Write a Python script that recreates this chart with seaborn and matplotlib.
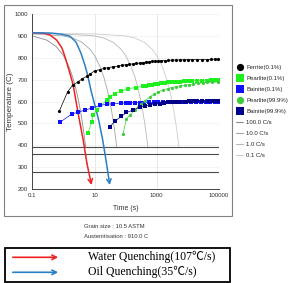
import numpy as np
import seaborn as sns
import matplotlib.pyplot as plt
from matplotlib.lines import Line2D
from matplotlib.patches import Rectangle, FancyArrowPatch
from matplotlib.ticker import FixedLocator, FuncFormatter, NullFormatter, LogLocator, MultipleLocator

# --- data ---
ferrite_t = [0.73, 1.36, 1.97, 2.98, 4.1, 5.8, 7.1, 10, 15, 20, 28, 40, 55, 75,
             100, 130, 170, 220, 280, 360, 450, 560, 700, 870, 1100, 1400, 1800, 2300, 3000,
             4000, 5500, 7500, 10000, 14000, 20000, 28000, 40000, 55000, 75000, 90000]
ferrite_T = [555, 644, 674, 690, 705, 716, 725, 740, 746, 751, 755, 759, 762, 765,
             768, 770, 772, 774, 776, 778, 780, 782, 783, 784, 785, 786, 787, 788, 789,
             790, 790, 791, 791, 792, 792, 792, 792, 793, 793, 793]

pearlite01_t = [6.2, 8.0, 9.0, 11.6, 24.3, 31, 44.8, 73, 118, 222, 361, 450, 560, 700, 870,
                1100, 1400, 1800, 2300, 3000, 4000, 5500, 7500, 10000, 14000, 20000, 28000,
                40000, 55000, 75000, 90000]
pearlite01_T = [456, 505, 537, 560, 606, 621, 636, 648, 659, 664, 670, 672, 674, 677, 679,
                682, 684, 685, 687, 688, 690, 691, 693, 694, 695, 695, 696,
                696, 697, 697, 697]

bainite01_t = [0.79, 1.83, 2.98, 4.9, 8.0, 14.8, 24.3, 39.5, 73, 100, 140, 200, 280, 400, 560,
               800, 1100, 1600, 2300, 3200, 4500, 6500, 9000, 13000, 18000, 26000, 37000,
               52000, 75000, 90000]
bainite01_T = [506, 542, 552, 560, 570, 582, 587, 590, 593, 593, 594, 594, 595, 595, 596,
               596, 597, 597, 598, 598, 599, 599, 599, 600, 600, 600, 600,
               600, 600, 600]

pearlite999_t = [82.6, 106, 140, 195, 250, 320, 420, 590, 800, 1100, 1600, 2290, 3000, 4000,
                 5500, 8000, 11000, 15000, 21000, 30000, 42000, 60000, 90000]
pearlite999_T = [453, 521, 540, 560, 575, 590, 604, 620, 633, 644, 652, 659, 664, 667,
                 671, 674, 677, 680, 683, 685, 687, 688, 689]

bainite999_t = [31, 44.8, 73, 106, 173, 283, 420, 590, 850, 1230, 1700, 2290, 3000, 4000,
                5500, 8000, 11000, 15000, 20000, 28000, 40000, 55000, 75000, 90000]
bainite999_T = [483, 510, 532, 550, 560, 575, 580, 583, 587, 590, 593, 596, 598, 599,
                600, 600, 601, 601, 601, 602, 602, 602, 602, 602]

rate_labels = ["100.0 C/s", "10.0 C/s", "1.0 C/s", "0.1 C/s"]
cool100_t = [0.1, 0.3, 0.6, 1, 1.5, 2, 2.5, 3, 3.5, 4, 4.5, 5.2]
cool100_T = [900, 880, 850, 810, 760, 710, 660, 610, 560, 510, 460, 390]
cool10_t = [0.1, 1, 2, 4, 7, 10, 15, 20, 25, 30, 35, 40, 45, 52]
cool10_T = [909, 900, 890, 870, 840, 810, 760, 710, 660, 610, 560, 510, 460, 390]
cool1_t = [0.1, 1, 10, 20, 40, 70, 100, 150, 200, 250, 300, 350, 400, 450, 520]
cool1_T = [910, 909, 900, 890, 870, 840, 810, 760, 710, 660, 610, 560, 510, 460, 390]
cool01_t = [0.1, 10, 100, 200, 400, 700, 1000, 1500, 2000, 2500, 3000, 3500, 4000, 4500, 5200]
cool01_T = [910, 909, 900, 890, 870, 840, 810, 760, 710, 660, 610, 560, 510, 460, 390]

ms_temps = [391, 360, 280]

water_t = [0.105, 0.22, 0.37, 0.605, 0.895, 1.12, 1.61, 2.06, 2.92, 4.32, 5.66, 8.0]
water_T = [914, 913, 904, 881, 845, 805, 730, 675, 552, 424, 319, 218]
oil_t = [0.105, 0.37, 0.77, 1.61, 2.52, 3.64, 4.89, 6.1, 7.6, 10.2, 13.6, 18.3, 23.9, 30.9]
oil_T = [914, 913, 909, 899, 872, 822, 767, 717, 653, 584, 515, 424, 323, 218]

# --- style ---
sns.set_style("white")
plt.rcParams['font.family'] = ['Liberation Sans', 'DejaVu Sans']

W, H = 288, 283
fig = plt.figure(figsize=(W / 100, H / 100), dpi=100)
ax = fig.add_axes([32.3 / W, 1 - 189 / H, (219 - 32.3) / W, 175 / H])
ax.set_xscale('log')

# faint grid
for v in [10, 1000]:
    ax.axvline(v, color='#e4e4e4', lw=0.6, zorder=0)
for h in range(300, 1001, 100):
    ax.axhline(h, color='#eeeeee', lw=0.5, zorder=0)

# martensite lines
for h in ms_temps:
    ax.axhline(h, color='#4a4a4a', lw=0.8, zorder=2)

# cooling curves
cool_colors = ['#8c8c8c', '#a6a6a6', '#b8b8b8', '#cccccc']
cool_data = [(cool100_t, cool100_T), (cool10_t, cool10_T), (cool1_t, cool1_T), (cool01_t, cool01_T)]
for (t, T), c in zip(cool_data, cool_colors):
    sns.lineplot(x=t, y=T, ax=ax, color=c, lw=0.6, estimator=None, sort=False, legend=False, zorder=1)

# quench paths with arrow heads
red = '#ee2222'
blue = '#2a80c4'
for t, T, c in [(water_t, water_T, red), (oil_t, oil_T, blue)]:
    sns.lineplot(x=t[:-1], y=T[:-1], ax=ax, color=c, lw=1.1, estimator=None, sort=False,
                 legend=False, zorder=3)
    ax.annotate('', xy=(t[-1], T[-1]), xytext=(t[-2], T[-2]),
                arrowprops=dict(arrowstyle='->', color=c, lw=1.1, mutation_scale=8,
                                shrinkA=0, shrinkB=0), zorder=3)

# transformation curves
series = [
    (ferrite_t, ferrite_T, 'black', 'o', "Ferrite(0.1%)"),
    (pearlite01_t, pearlite01_T, '#1ef01e', 's', "Pearlite(0.1%)"),
    (bainite01_t, bainite01_T, '#1010ff', 's', "Bainite(0.1%)"),
    (pearlite999_t, pearlite999_T, '#3ccc3c', 'o', "Pearlite(99.9%)"),
    (bainite999_t, bainite999_T, '#000088', 's', "Bainite(99.9%)"),
]
for t, T, c, m, lab in series:
    sns.lineplot(x=t, y=T, ax=ax, color=c, lw=0.5, marker=m, markersize=2.3, mew=0,
                 estimator=None, sort=False, legend=False, zorder=4)

ax.set_xlim(0.1, 100000)
ax.set_ylim(200, 1000)

# ticks
labelled = {0.1: '0.1', 10: '10', 1000: '1000', 100000: '100000'}
ax.xaxis.set_major_locator(FixedLocator([0.1, 1, 10, 100, 1000, 10000, 100000]))
ax.xaxis.set_major_formatter(FuncFormatter(lambda v, p: next((s for k, s in labelled.items()
                                                              if abs(v - k) / k < 1e-6), '')))
ax.xaxis.set_minor_locator(LogLocator(base=10, subs=np.arange(2, 10), numticks=20))
ax.xaxis.set_minor_formatter(NullFormatter())
ax.yaxis.set_major_locator(MultipleLocator(100))
ax.yaxis.set_minor_locator(MultipleLocator(50))
ax.tick_params(which='both', direction='inout', color='#444444', width=0.5,
               labelsize=4.4, labelcolor='#333333', pad=1.5)
ax.tick_params(which='major', length=3)
ax.tick_params(which='minor', length=2)
for s in ['top', 'right']:
    ax.spines[s].set_visible(False)
for s in ['left', 'bottom']:
    ax.spines[s].set_color('#444444')
    ax.spines[s].set_linewidth(0.7)

ax.set_xlabel('Time (s)', fontsize=5, color='#333333', labelpad=5)
ax.set_ylabel('Temperature (C)', fontsize=5.8, color='#333333', labelpad=0.3)

# legend outside on the right
handles = [Line2D([], [], color=c, marker=m, ls='none', markersize=5.2, mew=0)
           for _, _, c, m, _ in series]
handles += [Line2D([], [], color=c, lw=0.8) for c in cool_colors]
labels = [s[4] for s in series] + rate_labels
fig.legend(handles, labels, loc='upper left', bbox_to_anchor=(236 / W, 1 - 65 / H),
           frameon=False, fontsize=4.3, handlelength=1.2, handletextpad=0.5,
           labelspacing=0.98, borderpad=0, borderaxespad=0)

# outer frame of the diagram
fig.add_artist(Rectangle((4 / W, 1 - 215.5 / H), 228 / W, 211 / H, transform=fig.transFigure,
                         fill=False, edgecolor='#808080', lw=0.8))

fig.text(84 / W, 1 - 226 / H, 'Grain size : 10.5 ASTM', fontsize=4.2, va='center', color='#333333')
fig.text(84 / W, 1 - 236.7 / H, 'Austenitisation : 910.0 C', fontsize=4.2, va='center',
         color='#333333')

# quenching key box
fig.add_artist(Rectangle((5 / W, 1 - 282.3 / H), 225 / W, (282.3 - 247.7) / H,
                         transform=fig.transFigure, fill=False, edgecolor='black', lw=1.3))
serif = ['Liberation Serif', 'Noto Sans CJK SC']
for y, c, txt in [(257.3, red, 'Water Quenching(107℃/s)'), (272.3, blue, 'Oil Quenching(35℃/s)')]:
    fig.add_artist(FancyArrowPatch((10 / W, 1 - y / H), (61 / W, 1 - y / H),
                                   transform=fig.transFigure, arrowstyle='->', color=c, lw=1.2,
                                   mutation_scale=8))
    fig.text(88 / W, 1 - y / H, txt, family=serif, fontsize=8.5, va='center', color='black')

fig.savefig('out.png', dpi=100)
